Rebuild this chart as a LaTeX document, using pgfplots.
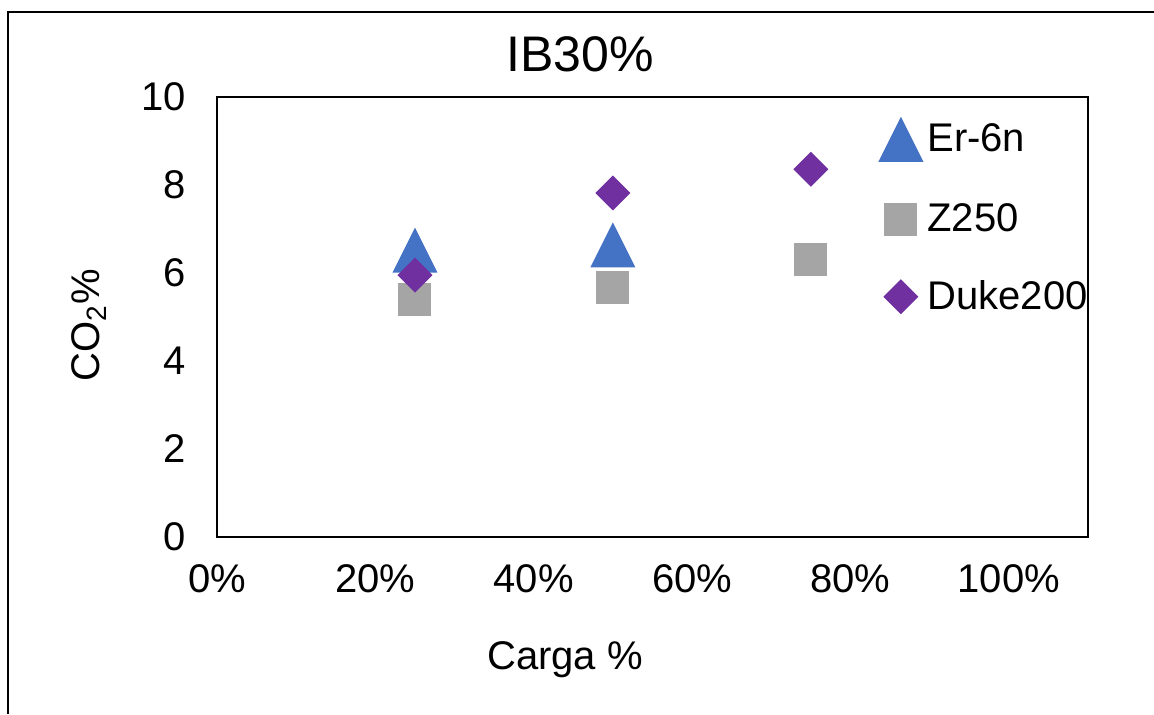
\documentclass[border=0pt]{standalone}
\usepackage{pgfplots}
\pgfplotsset{compat=1.18}
\usepackage{fontspec}
\setmainfont{Liberation Sans}
\definecolor{cblue}{HTML}{4472C4}
\definecolor{cgray}{HTML}{A5A5A5}
\definecolor{cpurple}{HTML}{7030A0}
\pgfdeclareplotmark{xltri}{%
  \pgfpathmoveto{\pgfqpoint{0pt}{\pgfplotmarksize}}%
  \pgfpathlineto{\pgfqpoint{-\pgfplotmarksize}{-\pgfplotmarksize}}%
  \pgfpathlineto{\pgfqpoint{\pgfplotmarksize}{-\pgfplotmarksize}}%
  \pgfpathclose\pgfusepathqfill}
\pgfdeclareplotmark{xlsq}{%
  \pgfpathrectangle{\pgfqpoint{-\pgfplotmarksize}{-\pgfplotmarksize}}{\pgfqpoint{2\pgfplotmarksize}{2\pgfplotmarksize}}%
  \pgfusepathqfill}
\pgfdeclareplotmark{xldia}{%
  \pgfpathmoveto{\pgfqpoint{0pt}{\pgfplotmarksize}}%
  \pgfpathlineto{\pgfqpoint{\pgfplotmarksize}{0pt}}%
  \pgfpathlineto{\pgfqpoint{0pt}{-\pgfplotmarksize}}%
  \pgfpathlineto{\pgfqpoint{-\pgfplotmarksize}{0pt}}%
  \pgfpathclose\pgfusepathqfill}
\begin{document}
\begin{tikzpicture}
% page size 1154x714 px at 0.5pt/px
\path[use as bounding box] (0pt,0pt) rectangle (577pt,357pt);
\draw[line width=1.2pt] (4pt,0pt) -- (4pt,351pt) -- (577pt,351pt);
\node[font=\fontsize{25}{30}\selectfont] at (290pt,330pt) {IB30\%};
\node[font=\fontsize{20}{24}\selectfont, rotate=90] at (44.5pt,194.5pt) {CO\textsubscript{2}\%};
\node[font=\fontsize{20}{24}\selectfont] at (282.5pt,27pt) {Carga \%};
\begin{axis}[
  at={(108.5pt,88.5pt)}, anchor=south west,
  width=435.5pt, height=220pt, scale only axis,
  xmin=0, xmax=1.1, ymin=0, ymax=10,
  xtick={0,0.2,0.4,0.6,0.8,1.0},
  xticklabels={0\%,20\%,40\%,60\%,80\%,100\%},
  ytick={0,2,4,6,8,10},
  major tick length=0pt,
  axis line style={line width=1pt, black},
  /pgf/number format/assume math mode=true,
  tick label style={font=\fontsize{20}{24}\selectfont},
  xticklabel style={yshift=-10pt},
  yticklabel style={xshift=-12pt},
  legend style={at={(0.752,0.965)}, anchor=north west, draw=none, fill=none,
    font=\fontsize{20}{24}\selectfont, row sep=19pt,
    /tikz/every even column/.append style={column sep=-5pt}},
  legend cell align=left,
  clip=false,
]
\addplot[only marks, mark=xltri, mark size=11.25pt, color=cblue] coordinates {
  (0.25,6.52) (0.50,6.64)
};
\addlegendentry{Er-6n}
\addplot[only marks, mark=xlsq, mark size=8.25pt, color=cgray] coordinates {
  (0.25,5.39) (0.50,5.66) (0.75,6.30)
};
\addlegendentry{Z250}
\addplot[only marks, mark=xldia, mark size=8.75pt, color=cpurple] coordinates {
  (0.25,5.95) (0.50,7.82) (0.75,8.36)
};
\addlegendentry{Duke200}
\end{axis}
\end{tikzpicture}
\end{document}
